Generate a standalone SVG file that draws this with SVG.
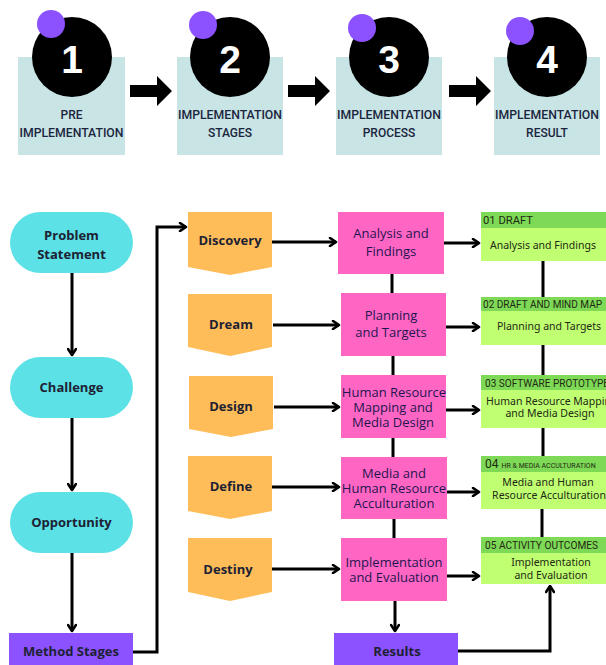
<svg xmlns="http://www.w3.org/2000/svg" width="606" height="665" viewBox="0 0 606 665">
<defs>
<marker id="ah" viewBox="0 0 10 10" refX="8.5" refY="5" markerWidth="10" markerHeight="10" markerUnits="userSpaceOnUse" orient="auto">
<path d="M2.5,1 L8.5,5 L2.5,9" fill="none" stroke="#000" stroke-width="2.6" stroke-linecap="round" stroke-linejoin="round"/>
</marker>
<path id="blk" d="M0,-6 H27 V-15 L42,0 L27,15 V6 H0 Z"/>
</defs>
<style>
.stepbox{fill:#c8e4e4}
.disc{fill:#000}
.dot{fill:#8c52ff}
.num{font-family:"Liberation Sans",Arial,sans-serif;font-weight:bold;font-size:39px;fill:#fff;text-anchor:middle}
.lbl{font-family:Roboto,"Liberation Sans",sans-serif;font-weight:500;font-size:12px;fill:#1b2540;text-anchor:middle}
.pill{fill:#5ce1e6}
.pur{fill:#8c52ff}
.org{fill:#ffbd59}
.pink{fill:#ff66c4}
.ghead{fill:#7ed957}
.gbody{fill:#c1ff72}
.bt{font-family:"Open Sans","Noto Sans",sans-serif;font-weight:bold;font-size:13px;fill:#1c2233;text-anchor:middle}
.pt{font-family:"Open Sans","Noto Sans",sans-serif;font-weight:500;font-size:13px;fill:#1e1550;text-anchor:middle}
.gt{font-family:"Noto Sans","Open Sans",sans-serif;font-size:10.5px;fill:#1e2a12;text-anchor:middle}
.ht{font-family:Roboto,"Liberation Sans",sans-serif;font-size:11px;fill:#1e2a12}
.conn path,.conn line{stroke:#000;stroke-width:3;fill:none}
</style>

<g id="step1">
<rect class="stepbox" x="18" y="57" width="107" height="98"/>
<circle class="disc" cx="72" cy="57" r="40"/>
<circle class="dot" cx="51" cy="24" r="14"/>
<text class="num" x="72" y="73">1</text>
<text class="lbl" x="71.5" y="119">PRE</text>
<text class="lbl" x="71.5" y="137" textLength="104" lengthAdjust="spacingAndGlyphs">IMPLEMENTATION</text>
</g>
<g id="step2">
<rect class="stepbox" x="177" y="57" width="106" height="98"/>
<circle class="disc" cx="230" cy="57" r="40"/>
<circle class="dot" cx="203" cy="25" r="14"/>
<text class="num" x="230" y="73">2</text>
<text class="lbl" x="230" y="119" textLength="104" lengthAdjust="spacingAndGlyphs">IMPLEMENTATION</text>
<text class="lbl" x="230" y="137">STAGES</text>
</g>
<g id="step3">
<rect class="stepbox" x="336" y="57" width="106" height="98"/>
<circle class="disc" cx="389" cy="57" r="40"/>
<circle class="dot" cx="362" cy="28" r="14"/>
<text class="num" x="389" y="73">3</text>
<text class="lbl" x="389" y="119" textLength="104" lengthAdjust="spacingAndGlyphs">IMPLEMENTATION</text>
<text class="lbl" x="389" y="137">PROCESS</text>
</g>
<g id="step4">
<rect class="stepbox" x="494" y="57" width="106" height="98"/>
<circle class="disc" cx="547" cy="57" r="40"/>
<circle class="dot" cx="520" cy="31" r="14"/>
<text class="num" x="547" y="73">4</text>
<text class="lbl" x="547" y="119" textLength="104" lengthAdjust="spacingAndGlyphs">IMPLEMENTATION</text>
<text class="lbl" x="547" y="137">RESULT</text>
</g>

<g id="step-arrows">
<use href="#blk" transform="translate(130,91)"/>
<use href="#blk" transform="translate(288,91)"/>
<use href="#blk" transform="translate(449,91)"/>
</g>

<g id="problem"><rect class="pill" x="10" y="212" width="123" height="61" rx="30.5"/>
<text class="bt" x="71.5" y="240">Problem</text><text class="bt" x="71.5" y="259">Statement</text></g>
<g id="challenge"><rect class="pill" x="10" y="357" width="123" height="61" rx="30.5"/>
<text class="bt" x="71.5" y="392">Challenge</text></g>
<g id="opportunity"><rect class="pill" x="10" y="492" width="123" height="61" rx="30.5"/>
<text class="bt" x="71.5" y="527">Opportunity</text></g>
<g id="method"><rect class="pur" x="9" y="633" width="124" height="34"/>
<text class="bt" x="71" y="656">Method Stages</text></g>

<g id="discovery"><path class="org" d="M188,212 H272 V267 L230,275 L188,267 Z"/><text class="bt" x="230" y="245">Discovery</text></g>
<g id="dream"><path class="org" d="M188,294 H272 V347 L230,356 L188,347 Z"/><text class="bt" x="231" y="329">Dream</text></g>
<g id="design"><path class="org" d="M189,376 H273 V429 L231,437 L189,429 Z"/><text class="bt" x="231" y="411">Design</text></g>
<g id="define"><path class="org" d="M188,456 H272 V511 L230,519 L188,511 Z"/><text class="bt" x="231" y="491">Define</text></g>
<g id="destiny"><path class="org" d="M188,538 H272 V592 L230,601 L188,592 Z"/><text class="bt" x="228" y="574">Destiny</text></g>

<g id="analysis"><rect class="pink" x="338" y="212" width="106" height="62"/>
<text class="pt" x="391" y="238">Analysis and</text><text class="pt" x="391" y="256">Findings</text></g>
<g id="planning"><rect class="pink" x="341" y="293" width="105" height="63"/>
<text class="pt" x="391" y="320">Planning</text><text class="pt" x="391" y="337">and Targets</text></g>
<g id="hrmapping"><rect class="pink" x="341" y="375" width="105" height="63"/>
<text class="pt" x="394" y="397">Human Resource</text><text class="pt" x="393" y="412">Mapping and</text><text class="pt" x="393" y="427">Media Design</text></g>
<g id="media"><rect class="pink" x="341" y="457" width="106" height="62"/>
<text class="pt" x="394" y="478">Media and</text><text class="pt" x="394" y="493">Human Resource</text><text class="pt" x="394" y="508">Acculturation</text></g>
<g id="impl"><rect class="pink" x="341" y="538" width="106" height="63"/>
<text class="pt" x="394" y="567">Implementation</text><text class="pt" x="394" y="582">and Evaluation</text></g>
<g id="results"><rect class="pur" x="334" y="633" width="124" height="34"/>
<text class="bt" x="397" y="656">Results</text></g>

<g id="out1"><rect class="ghead" x="481" y="212" width="130" height="16"/><rect class="gbody" x="481" y="228" width="130" height="33"/>
<text class="ht" x="483" y="224" textLength="50" lengthAdjust="spacingAndGlyphs">01 DRAFT</text>
<text class="gt" x="543" y="249">Analysis and Findings</text></g>
<g id="out2"><rect class="ghead" x="481" y="297" width="130" height="14"/><rect class="gbody" x="481" y="311" width="130" height="34"/>
<text class="ht" x="483" y="308" textLength="119" lengthAdjust="spacingAndGlyphs">02  DRAFT AND MIND MAP</text>
<text class="gt" x="549" y="330">Planning and Targets</text></g>
<g id="out3"><rect class="ghead" x="481" y="375" width="130" height="15"/><rect class="gbody" x="481" y="390" width="130" height="38"/>
<text class="ht" x="485" y="387" textLength="124" lengthAdjust="spacingAndGlyphs">03  SOFTWARE PROTOTYPE</text>
<text class="gt" x="486" y="405" style="text-anchor:start">Human Resource Mapping</text>
<text class="gt" x="550" y="417">and Media Design</text></g>
<g id="out4"><rect class="ghead" x="481" y="456" width="130" height="16"/><rect class="gbody" x="481" y="472" width="130" height="37"/>
<text class="ht" x="485" y="468"><tspan font-size="12">04</tspan><tspan font-size="7" dx="3">HR &amp; MEDIA ACCULTURATION</tspan></text>
<text class="gt" x="548" y="486">Media and Human</text>
<text class="gt" x="549" y="499">Resource Acculturation</text></g>
<g id="out5"><rect class="ghead" x="481" y="537" width="130" height="16"/><rect class="gbody" x="481" y="553" width="130" height="31"/>
<text class="ht" x="485" y="549" textLength="113" lengthAdjust="spacingAndGlyphs">05  ACTIVITY OUTCOMES</text>
<text class="gt" x="551" y="566">Implementation</text>
<text class="gt" x="551" y="579">and Evaluation</text></g>

<g id="connectors" class="conn">
<line x1="72" y1="273" x2="72" y2="355" marker-end="url(#ah)"/>
<line x1="72" y1="418" x2="72" y2="490" marker-end="url(#ah)"/>
<line x1="72" y1="553" x2="72" y2="631" marker-end="url(#ah)"/>
<path d="M133,652 H157 V227 H186" marker-end="url(#ah)"/>
<line x1="272" y1="242" x2="336" y2="242" marker-end="url(#ah)"/>
<line x1="273" y1="325" x2="339" y2="325" marker-end="url(#ah)"/>
<line x1="274" y1="407" x2="339" y2="407" marker-end="url(#ah)"/>
<line x1="272" y1="487" x2="339" y2="487" marker-end="url(#ah)"/>
<line x1="272" y1="569" x2="339" y2="569" marker-end="url(#ah)"/>
<line x1="392" y1="274" x2="392" y2="293"/>
<line x1="393" y1="356" x2="393" y2="375"/>
<line x1="393" y1="438" x2="393" y2="457"/>
<line x1="394" y1="519" x2="394" y2="538"/>
<line x1="395" y1="601" x2="395" y2="631" marker-end="url(#ah)"/>
<line x1="444" y1="243" x2="479" y2="243" marker-end="url(#ah)"/>
<line x1="446" y1="327" x2="479" y2="327" marker-end="url(#ah)"/>
<line x1="446" y1="410" x2="479" y2="410" marker-end="url(#ah)"/>
<line x1="447" y1="492" x2="479" y2="492" marker-end="url(#ah)"/>
<line x1="447" y1="576" x2="479" y2="576" marker-end="url(#ah)"/>
<line x1="543" y1="261" x2="543" y2="297"/>
<line x1="543" y1="345" x2="543" y2="375"/>
<line x1="543" y1="428" x2="543" y2="456"/>
<line x1="542" y1="509" x2="542" y2="537"/>
<path d="M458,651 H550 V586" marker-end="url(#ah)"/>
</g>
</svg>
